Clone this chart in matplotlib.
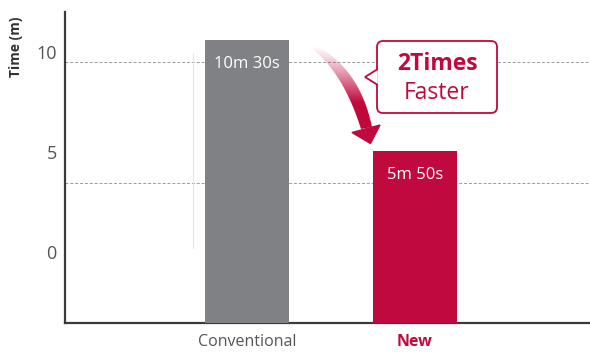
import matplotlib
matplotlib.use("Agg")
import matplotlib.pyplot as plt
import numpy as np
from matplotlib.patches import FancyBboxPatch, Polygon

categories = ["Conventional", "New"]
bar_tops = [10.6, 5.05]             # drawn tops on the stylised axis
bar_labels = ["10m 30s", "5m 50s"]
bar_colors = ["#808184", "#c0093c"]
tick_values = [0, 5, 10]
grid_values = [3.45, 9.5]
y_floor = -3.55

RED = "#c0093c"
plt.rcParams["font.family"] = ["Open Sans", "DejaVu Sans"]

W, H = 590, 353
fig = plt.figure(figsize=(W / 100, H / 100), dpi=100)


def fx(px, py):
    """reference pixel -> figure fraction"""
    return px / W, 1 - py / H


def bez(a, b, c, t):
    a, b, c = map(np.array, (a, b, c))
    return ((1 - t) ** 2)[:, None] * a + (2 * (1 - t) * t)[:, None] * b + (t ** 2)[:, None] * c


ax = fig.add_axes([65 / W, 30 / H, (W - 65) / W, (323 - 12) / H])
x = np.arange(len(categories))
heights = [top - y_floor for top in bar_tops]
ax.bar(x, heights, width=0.5, bottom=y_floor, color=bar_colors, zorder=3)
ax.set_xlim(-1.083, 2.042)
ax.set_ylim(y_floor, 12.0)

for g in grid_values:
    ax.axhline(g, color="#9a9a9a", lw=0.7, ls=(0, (3, 2)), zorder=1)
# faint vertical guide line
ax.plot([-0.321, -0.321], [0.2, 9.95], color="#e6e6e6", lw=0.8, zorder=1)

for xi, top, lab in zip(x, bar_tops, bar_labels):
    ax.text(xi, top - 1.2, lab, ha="center", va="center", color="white",
            fontsize=12, zorder=4)

ax.set_yticks(tick_values)
ax.set_yticklabels([str(t) for t in tick_values], fontsize=13, color="#555555")
ax.set_xticks(x)
ax.set_xticklabels(categories, fontsize=11.5)
ax.get_xticklabels()[0].set_color("#555555")
ax.get_xticklabels()[1].set_color(RED)
ax.get_xticklabels()[1].set_fontweight("bold")
ax.tick_params(axis="y", length=0, pad=6)
ax.tick_params(axis="x", length=0, pad=8)

for s in ["top", "right"]:
    ax.spines[s].set_visible(False)
for s in ["left", "bottom"]:
    ax.spines[s].set_color("#3a3a3a")
    ax.spines[s].set_linewidth(1.6)

fig.text(*fx(16, 47), "Time (m)", rotation=90, ha="center", va="center",
         fontsize=10, fontweight="bold", color="#333333")

# --- curved gradient arrow: overlay in reference-pixel coordinates ---
ov = fig.add_axes([0, 0, 1, 1], facecolor="none")
ov.set_xlim(0, W)
ov.set_ylim(H, 0)
ov.axis("off")

t = np.linspace(0, 1, 60)
left = bez((311, 48), (343, 72), (361, 129), t)
right = bez((318, 47), (360, 70), (372, 127), t)
shaft = Polygon(np.vstack([left, right[::-1]]), closed=True, fc="none", ec="none")
ov.add_patch(shaft)
ramp = np.clip(np.linspace(0, 1, 200) * 1.5, 0, 1) ** 1.2
rgba = np.zeros((200, 2, 4))
rgba[..., :3] = (0.753, 0.035, 0.235)
rgba[..., 3] = ramp[:, None]
img = ov.imshow(rgba, extent=(305, 378, 131, 45), origin="upper",
                aspect="auto", interpolation="bilinear")
img.set_clip_path(shaft)
ov.add_patch(Polygon([(352, 132.5), (380, 125), (370.5, 143.5)], closed=True,
                     color=RED))

# --- callout box ---
ov.add_patch(FancyBboxPatch((377, 41), 120, 72,
                            boxstyle="round,pad=0,rounding_size=6",
                            fc="white", ec=RED, lw=1.3))
ov.add_patch(Polygon([(377.8, 69), (365, 77), (377.8, 85)], closed=False,
                     fc="white", ec=RED, lw=1.3))
ov.text(437, 64, "2Times", ha="center", va="center", fontsize=16.5,
        fontweight="bold", color=RED)
ov.text(437, 93, "Faster", ha="center", va="center", fontsize=16.5, color=RED)
ov.set_xlim(0, W)
ov.set_ylim(H, 0)

fig.savefig("out.png", dpi=100)
